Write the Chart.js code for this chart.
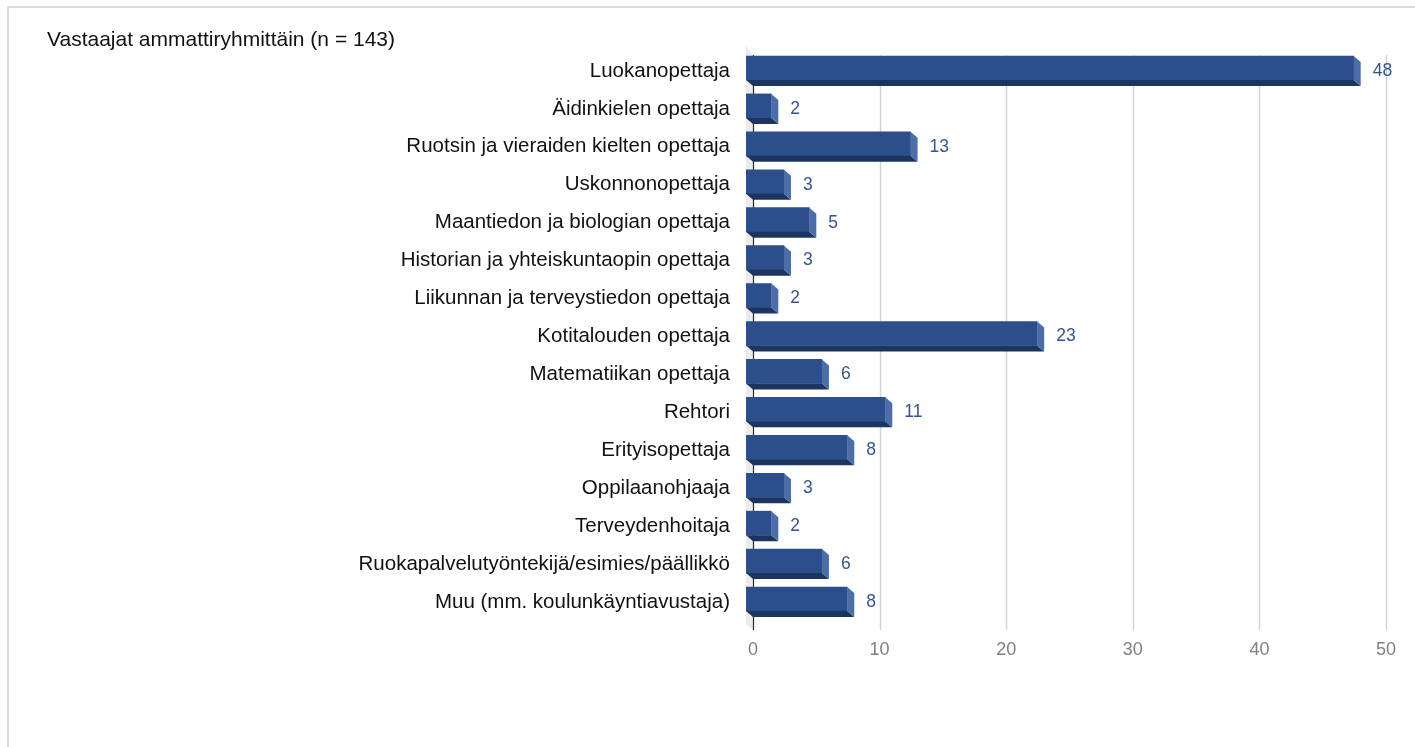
<!DOCTYPE html>
<html>
<head>
<meta charset="utf-8">
<script src="https://cdn.jsdelivr.net/npm/chart.js@4.4.1/dist/chart.umd.min.js"></script>
<style>
    html, body { margin: 0; padding: 0; background: #fff; overflow: hidden; }
    #frame { position: absolute; left: 7px; top: 6px; width: 1500px; height: 900px; border: 2px solid #dcdcdc; }
    #wrap { position: absolute; left: 0; top: 0; width: 1415px; height: 747px; }
</style>
</head>
<body>
<div id="frame"></div>
<div id="wrap"><canvas id="chart" width="1415" height="747"></canvas></div>
<script>
// --- Data ---
const title = 'Vastaajat ammattiryhmittäin (n = 143)';

const categories = [
    'Luokanopettaja',
    'Äidinkielen opettaja',
    'Ruotsin ja vieraiden kielten opettaja',
    'Uskonnonopettaja',
    'Maantiedon ja biologian opettaja',
    'Historian ja yhteiskuntaopin opettaja',
    'Liikunnan ja terveystiedon opettaja',
    'Kotitalouden opettaja',
    'Matematiikan opettaja',
    'Rehtori',
    'Erityisopettaja',
    'Oppilaanohjaaja',
    'Terveydenhoitaja',
    'Ruokapalvelutyöntekijä/esimies/päällikkö',
    'Muu (mm. koulunkäyntiavustaja)'
];

const counts = [48, 2, 13, 3, 5, 3, 2, 23, 6, 11, 8, 3, 2, 6, 8];

const xMin = 0;
const xMax = 50;
const xStep = 10;

// --- Style ---
const FONT = '"Liberation Sans", Arial, sans-serif';
const depth = { x: 7, y: 6 }; // front face sits up-left of the back plane
const colors = {
    front: '#2c4f8b',
    bottom: '#1c3560',
    side: '#4d6da8',
    value: '#34558f',
    grid: '#d2d2d2',
    wall: '#ebebeb'
};

function poly(ctx, pts, fill) {
    ctx.beginPath();
    ctx.moveTo(pts[0][0], pts[0][1]);
    for (let i = 1; i < pts.length; i++) ctx.lineTo(pts[i][0], pts[i][1]);
    ctx.closePath();
    ctx.fillStyle = fill;
    ctx.fill();
}

// 3D look: wall, grid, extruded bars, value labels, title
const box3d = {
    id: 'box3d',
    beforeDatasetsDraw(chart) {
        const { ctx, chartArea: a, scales: { x } } = chart;
        ctx.save();
        poly(ctx, [
            [a.left - depth.x, a.top - 9],
            [a.left, a.top],
            [a.left, a.bottom + depth.y],
            [a.left - depth.x, a.bottom]
        ], colors.wall);

        ctx.strokeStyle = colors.grid;
        ctx.lineWidth = 1.5;
        x.ticks.forEach(t => {
            if (t.value === xMin) return;
            const px = Math.round(x.getPixelForValue(t.value)) + 0.5;
            ctx.beginPath();
            ctx.moveTo(px, a.top);
            ctx.lineTo(px, a.bottom + depth.y);
            ctx.stroke();
        });

        ctx.strokeStyle = '#2a2a2a';
        ctx.lineWidth = 1.2;
        const ax = Math.round(x.getPixelForValue(xMin)) + 0.5;
        ctx.beginPath();
        ctx.moveTo(ax, a.top);
        ctx.lineTo(ax, a.bottom + depth.y);
        ctx.stroke();
        ctx.restore();
    },
    beforeDatasetDraw(chart) {
        chart.ctx.save();
        chart.ctx.translate(-depth.x, -depth.y);
    },
    afterDatasetDraw(chart) {
        chart.ctx.restore();
    },
    afterDatasetsDraw(chart) {
        const { ctx } = chart;
        const meta = chart.getDatasetMeta(0);
        ctx.save();
        meta.data.forEach((bar, i) => {
            const { x: right, y, base, height } = bar.getProps(['x', 'y', 'base', 'height'], true);
            const top = y - height / 2;
            const bottom = y + height / 2;
            const fl = base - depth.x, fr = right - depth.x;
            const ft = top - depth.y, fb = bottom - depth.y;
            poly(ctx, [[fl, fb], [fr, fb], [right, bottom], [base, bottom]], colors.bottom);
            poly(ctx, [[fr, ft], [right, top], [right, bottom], [fr, fb]], colors.side);

            ctx.fillStyle = colors.value;
            ctx.font = '17.5px ' + FONT;
            ctx.textAlign = 'left';
            ctx.textBaseline = 'middle';
            ctx.fillText(String(counts[i]), right + 12, y - 3);
        });

        ctx.fillStyle = '#111';
        ctx.font = '21px ' + FONT;
        ctx.textAlign = 'left';
        ctx.textBaseline = 'middle';
        ctx.fillText(title, 47, 40);
        ctx.restore();
    }
};

const ctx = document.getElementById('chart').getContext('2d');
new Chart(ctx, {
    type: 'bar',
    data: {
        labels: categories,
        datasets: [{
            data: counts,
            backgroundColor: colors.front,
            borderWidth: 0,
            barThickness: 24
        }]
    },
    options: {
        indexAxis: 'y',
        responsive: false,
        animation: false,
        layout: { padding: { top: 55, right: 29, left: 0, bottom: 0 } },
        plugins: {
            legend: { display: false },
            tooltip: { enabled: false }
        },
        scales: {
            x: {
                min: xMin,
                max: xMax,
                grid: { display: false, drawTicks: false },
                border: { display: false },
                ticks: {
                    stepSize: xStep,
                    color: '#808080',
                    padding: 15,
                    font: { family: FONT, size: 18 }
                },
                afterFit(scale) { scale.height = 123; }
            },
            y: {
                grid: { display: false, drawTicks: false },
                border: { display: false },
                ticks: {
                    color: '#111',
                    padding: 23,
                    labelOffset: -3,
                    font: { family: FONT, size: 20.5 }
                },
                afterFit(scale) { scale.width = 753; }
            }
        }
    },
    plugins: [box3d]
});
</script>
</body>
</html>
